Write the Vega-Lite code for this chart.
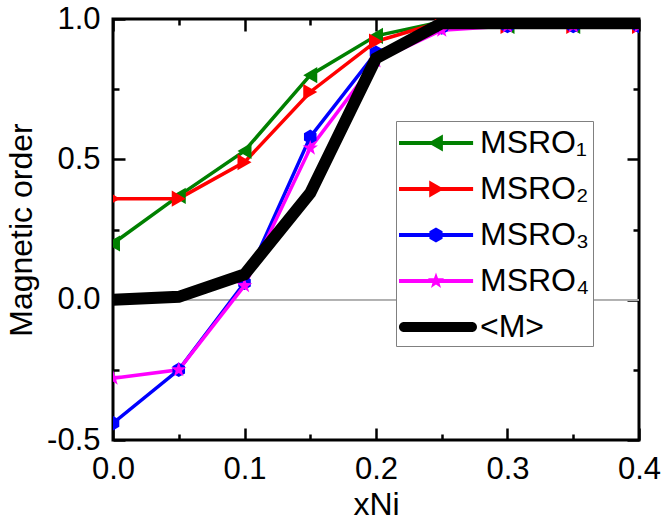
{
  "$schema": "https://vega.github.io/schema/vega-lite/v6.json",
  "width": 526,
  "height": 421,
  "autosize": "none",
  "padding": {"left": 113, "top": 19, "right": 23, "bottom": 86},
  "background": "white",
  "config": {
    "view": {"stroke": "black", "strokeWidth": 3},
    "font": "Liberation Sans",
    "axis": {
      "domain": false, "grid": false, "tickColor": "black", "tickWidth": 2.5, "zindex": 1,
      "labelFont": "Liberation Sans", "labelFontSize": 31, "labelColor": "black",
      "titleFont": "Liberation Sans", "titleFontSize": 32, "titleFontWeight": "normal", "titleColor": "black",
      "labelOverlap": false, "labelFlush": false
    }
  },
  "data": {"values": [
    {"x": 0.00, "y": 0.20, "s": "MSRO₁"}, {"x": 0.05, "y": 0.37, "s": "MSRO₁"}, {"x": 0.10, "y": 0.53, "s": "MSRO₁"}, {"x": 0.15, "y": 0.80, "s": "MSRO₁"}, {"x": 0.20, "y": 0.94, "s": "MSRO₁"}, {"x": 0.25, "y": 0.99, "s": "MSRO₁"}, {"x": 0.30, "y": 0.975, "s": "MSRO₁"}, {"x": 0.35, "y": 0.975, "s": "MSRO₁"}, {"x": 0.40, "y": 0.975, "s": "MSRO₁"},
    {"x": 0.00, "y": 0.36, "s": "MSRO₂"}, {"x": 0.05, "y": 0.36, "s": "MSRO₂"}, {"x": 0.10, "y": 0.49, "s": "MSRO₂"}, {"x": 0.15, "y": 0.74, "s": "MSRO₂"}, {"x": 0.20, "y": 0.92, "s": "MSRO₂"}, {"x": 0.25, "y": 0.99, "s": "MSRO₂"}, {"x": 0.30, "y": 0.975, "s": "MSRO₂"}, {"x": 0.35, "y": 0.975, "s": "MSRO₂"}, {"x": 0.40, "y": 0.975, "s": "MSRO₂"},
    {"x": 0.00, "y": -0.44, "s": "MSRO₃"}, {"x": 0.05, "y": -0.25, "s": "MSRO₃"}, {"x": 0.10, "y": 0.06, "s": "MSRO₃"}, {"x": 0.15, "y": 0.58, "s": "MSRO₃"}, {"x": 0.20, "y": 0.88, "s": "MSRO₃"}, {"x": 0.25, "y": 0.97, "s": "MSRO₃"}, {"x": 0.30, "y": 0.975, "s": "MSRO₃"}, {"x": 0.35, "y": 0.975, "s": "MSRO₃"}, {"x": 0.40, "y": 0.975, "s": "MSRO₃"},
    {"x": 0.00, "y": -0.28, "s": "MSRO₄"}, {"x": 0.05, "y": -0.25, "s": "MSRO₄"}, {"x": 0.10, "y": 0.05, "s": "MSRO₄"}, {"x": 0.15, "y": 0.54, "s": "MSRO₄"}, {"x": 0.20, "y": 0.85, "s": "MSRO₄"}, {"x": 0.25, "y": 0.96, "s": "MSRO₄"}, {"x": 0.30, "y": 0.975, "s": "MSRO₄"}, {"x": 0.35, "y": 0.975, "s": "MSRO₄"}, {"x": 0.40, "y": 0.975, "s": "MSRO₄"},
    {"x": 0.00, "y": 0.00, "s": "<M>"}, {"x": 0.05, "y": 0.01, "s": "<M>"}, {"x": 0.10, "y": 0.09, "s": "<M>"}, {"x": 0.15, "y": 0.38, "s": "<M>"}, {"x": 0.20, "y": 0.86, "s": "<M>"}, {"x": 0.25, "y": 0.985, "s": "<M>"}, {"x": 0.30, "y": 0.985, "s": "<M>"}, {"x": 0.35, "y": 0.985, "s": "<M>"}, {"x": 0.40, "y": 0.985, "s": "<M>"}
  ]},
  "resolve": {
    "axis": {"x": "independent", "y": "independent"},
    "scale": {"color": "independent", "shape": "independent"}
  },
  "layer": [
    {
      "mark": {"type": "rule", "color": "#b0b0b0", "strokeWidth": 1},
      "encoding": {
        "x": {"datum": 0, "type": "quantitative", "scale": {"domain": [0, 0.4], "nice": false, "zero": false},
          "axis": {"orient": "bottom", "title": "xNi", "values": [0, 0.1, 0.2, 0.3, 0.4], "format": ".1f", "ticks": false,
            "labelPadding": 14, "titlePadding": 5}},
        "x2": {"datum": 0.4},
        "y": {"datum": 0, "type": "quantitative", "scale": {"domain": [-0.5, 1], "nice": false, "zero": false},
          "axis": {"orient": "left", "title": "Magnetic order", "values": [-0.5, 0, 0.5, 1], "ticks": false,
            "labelExpr": "(datum.value < 0 ? '-' : '') + format(abs(datum.value), '.1f')",
            "labelPadding": 13, "titlePadding": 8}}
      }
    },
    {
      "transform": [{"filter": "datum.s !== '<M>'"}],
      "mark": {"type": "line", "strokeWidth": 3.5, "clip": true},
      "encoding": {
        "x": {"field": "x", "type": "quantitative",
          "axis": {"orient": "bottom", "title": null, "labels": false, "values": [0, 0.1, 0.2, 0.3, 0.4], "tickSize": -12}},
        "y": {"field": "y", "type": "quantitative",
          "axis": {"orient": "left", "title": null, "labels": false, "values": [-0.5, 0, 0.5, 1], "tickSize": -12}},
        "color": {"field": "s", "type": "nominal", "legend": null,
          "scale": {"domain": ["MSRO₁", "MSRO₂", "MSRO₃", "MSRO₄", "<M>"], "range": ["#008000", "#ff0000", "#0000ff", "#ff00ff", "#000000"]}}
      }
    },
    {
      "transform": [{"filter": "datum.s !== '<M>'"}],
      "mark": {"type": "point", "filled": true, "opacity": 1, "size": 260, "clip": true},
      "encoding": {
        "x": {"field": "x", "type": "quantitative",
          "axis": {"orient": "bottom", "title": null, "labels": false, "values": [0.05, 0.15, 0.25, 0.35], "tickSize": -6}},
        "y": {"field": "y", "type": "quantitative",
          "axis": {"orient": "left", "title": null, "labels": false, "values": [-0.25, 0.25, 0.75], "tickSize": -6}},
        "color": {"field": "s", "type": "nominal", "legend": null,
          "scale": {"domain": ["MSRO₁", "MSRO₂", "MSRO₃", "MSRO₄", "<M>"], "range": ["#008000", "#ff0000", "#0000ff", "#ff00ff", "#000000"]}},
        "shape": {"field": "s", "type": "nominal", "legend": null,
          "scale": {"domain": ["MSRO₁", "MSRO₂", "MSRO₃", "MSRO₄", "<M>"],
            "range": ["triangle-left", "triangle-right",
              "M0,-0.9L0.78,-0.45L0.78,0.45L0,0.9L-0.78,0.45L-0.78,-0.45Z",
              "M0,-1L0.235,-0.324L0.951,-0.309L0.38,0.124L0.588,0.809L0,0.4L-0.588,0.809L-0.38,0.124L-0.951,-0.309L-0.235,-0.324Z",
              "circle"]}}
      }
    },
    {
      "transform": [{"filter": "datum.s === '<M>'"}],
      "mark": {"type": "line", "strokeWidth": 12, "clip": true, "color": "black", "strokeJoin": "miter"},
      "encoding": {
        "x": {"field": "x", "type": "quantitative",
          "axis": {"orient": "top", "title": null, "labels": false, "values": [0, 0.1, 0.2, 0.3, 0.4], "tickSize": -12}},
        "y": {"field": "y", "type": "quantitative",
          "axis": {"orient": "right", "title": null, "labels": false, "values": [-0.5, 0, 0.5, 1], "tickSize": -12}}
      }
    },
    {
      "transform": [{"filter": "datum.x === 0"}],
      "mark": {"type": "point", "filled": true, "opacity": 0, "size": 0},
      "encoding": {
        "x": {"field": "x", "type": "quantitative",
          "axis": {"orient": "top", "title": null, "labels": false, "values": [0.05, 0.15, 0.25, 0.35], "tickSize": -6}},
        "y": {"field": "y", "type": "quantitative",
          "axis": {"orient": "right", "title": null, "labels": false, "values": [-0.25, 0.25, 0.75], "tickSize": -6}},
        "color": {"field": "s", "type": "nominal",
          "scale": {"domain": ["MSRO₁", "MSRO₂", "MSRO₃", "MSRO₄", "<M>"], "range": ["#008000", "#ff0000", "#0000ff", "#ff00ff", "#000000"]},
          "legend": {"orient": "none", "legendX": 283, "legendY": 102, "title": null, "fillColor": "white", "strokeColor": "#808080",
            "padding": 3, "rowPadding": 11, "labelFontSize": 32, "labelFont": "Liberation Sans", "labelColor": "black",
            "symbolSize": 1444, "symbolStrokeWidth": 0, "symbolOpacity": 1, "labelOffset": 43}},
        "shape": {"field": "s", "type": "nominal",
          "scale": {"domain": ["MSRO₁", "MSRO₂", "MSRO₃", "MSRO₄", "<M>"],
            "range": [
              "M-1,-0.105H2.9V0.105H-1ZM0.53,0L1.31,-0.45L1.31,0.45Z",
              "M-1,-0.105H2.9V0.105H-1ZM1.37,0L0.59,0.45L0.59,-0.45Z",
              "M-1,-0.105H2.9V0.105H-1ZM0.947,-0.4L1.293,-0.2L1.293,0.2L0.947,0.4L0.601,0.2L0.601,-0.2Z",
              "M-1,-0.105H2.9V0.105H-1ZM0.947,-0.45L1.053,-0.146L1.375,-0.139L1.118,0.056L1.212,0.364L0.947,0.18L0.682,0.364L0.776,0.056L0.519,-0.139L0.841,-0.146Z",
              "M-0.74,-0.263L2.84,-0.263A0.263,0.263 0 0 1 2.84,0.263L-0.74,0.263A0.263,0.263 0 0 1 -0.74,-0.263Z"]},
          "legend": {"orient": "none", "legendX": 283, "legendY": 102, "title": null, "fillColor": "white", "strokeColor": "#808080",
            "padding": 3, "rowPadding": 11, "labelFontSize": 32, "labelFont": "Liberation Sans", "labelColor": "black",
            "symbolSize": 1444, "symbolStrokeWidth": 0, "symbolOpacity": 1, "labelOffset": 43}}
      }
    }
  ]
}
